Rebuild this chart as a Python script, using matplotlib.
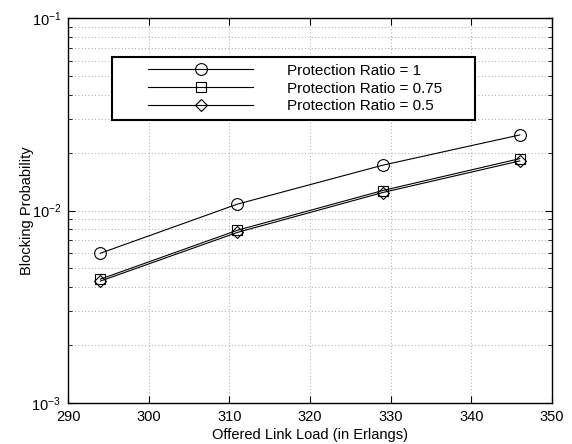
import numpy as np
import matplotlib
matplotlib.use("Agg")
import matplotlib.pyplot as plt
from matplotlib.ticker import LogLocator, NullFormatter, MultipleLocator
from matplotlib.legend_handler import HandlerLine2D

plt.rcParams['font.family'] = ['Liberation Sans', 'DejaVu Sans']
plt.rcParams['mathtext.default'] = 'regular'
plt.rcParams['font.size'] = 10.5

load = [294, 311, 329, 346]
ratio_1 = [0.0060, 0.0108, 0.0172, 0.0247]
ratio_075 = [0.0044, 0.0079, 0.0127, 0.0186]
ratio_05 = [0.0043, 0.0077, 0.0124, 0.0181]
labels = ['Protection Ratio = 1', 'Protection Ratio = 0.75', 'Protection Ratio = 0.5']

fig = plt.figure(figsize=(5.72, 4.44), dpi=100)
ax = fig.add_axes([0.119, 0.0923, 0.846, 0.867])

kw = dict(color='black', lw=0.8, mfc='none', mec='black', mew=0.8)
l1, = ax.semilogy(load, ratio_1, marker='o', ms=8.5, label=labels[0], **kw)
l2, = ax.semilogy(load, ratio_075, marker='s', ms=7, label=labels[1], **kw)
l3, = ax.semilogy(load, ratio_05, marker='D', ms=6.5, label=labels[2], **kw)

ax.set_xlim(290, 350)
ax.set_ylim(1e-3, 1e-1)
ax.xaxis.set_major_locator(MultipleLocator(10))
ax.yaxis.set_major_locator(LogLocator(base=10))
ax.yaxis.set_minor_locator(LogLocator(base=10, subs=np.arange(2, 10)))
ax.yaxis.set_minor_formatter(NullFormatter())

ax.grid(True, which='major', axis='both', ls=(0, (1, 3)), color='#888888', lw=0.6)
ax.grid(True, which='minor', axis='y', ls=(0, (1, 3)), color='#888888', lw=0.6)
ax.tick_params(which='both', direction='in', top=True, right=True)
ax.tick_params(which='major', length=5, pad=5)
ax.tick_params(which='minor', length=3)
for s in ax.spines.values():
    s.set_linewidth(1.0)

ax.set_xlabel('Offered Link Load (in Erlangs)', labelpad=3)
ax.set_ylabel('Blocking Probability', labelpad=-2)

hm = {h: HandlerLine2D(xpad=1.9) for h in (l1, l2, l3)}
leg = ax.legend(loc='upper left', bbox_to_anchor=(0.091, 0.5, 0.75, 0.399), mode='expand',
                handlelength=8.8, handletextpad=2.2, labelspacing=0.25, borderpad=0.45,
                fancybox=False, framealpha=1, edgecolor='black', borderaxespad=0,
                fontsize=11, handler_map=hm)
leg.get_frame().set_linewidth(1.5)

fig.savefig('out.png', dpi=100)
